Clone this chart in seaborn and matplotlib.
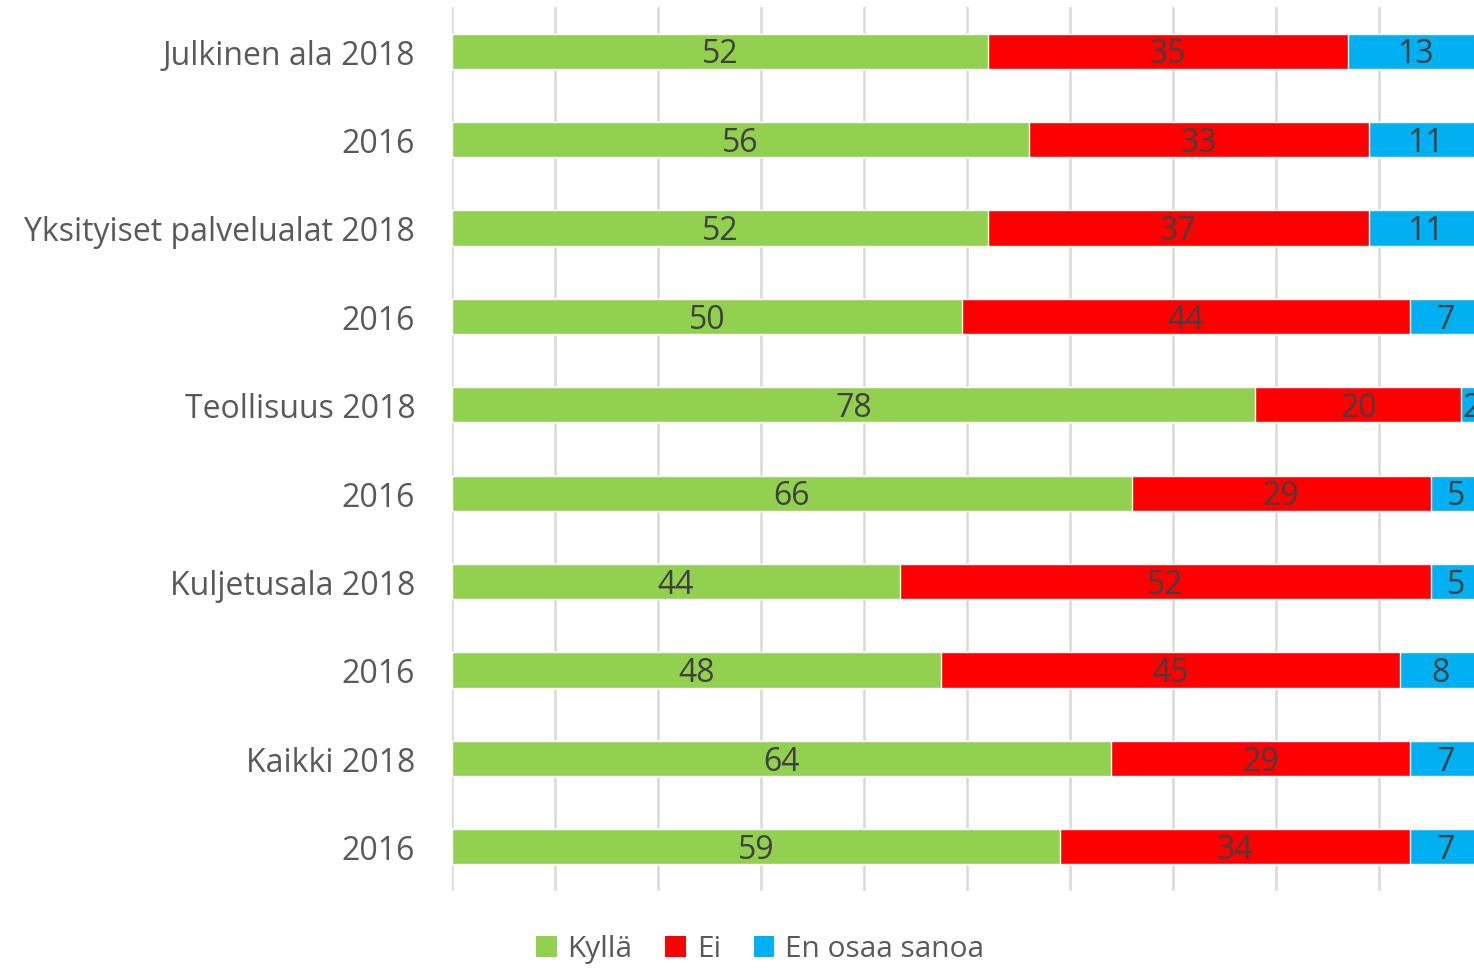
import numpy as np
import pandas as pd
import seaborn as sns
import matplotlib.pyplot as plt
from matplotlib.patches import Patch

categories = ["Julkinen ala 2018", "2016", "Yksityiset palvelualat 2018", "2016",
              "Teollisuus 2018", "2016", "Kuljetusala 2018", "2016", "Kaikki 2018", "2016"]
kylla = [52, 56, 52, 49.5, 78, 66, 43.5, 47.5, 64, 59]
ei = [35, 33, 37, 43.5, 20, 29, 51.5, 44.5, 29, 34]
eos = [13, 11, 11, 7, 2, 5, 5, 8, 7, 7]

series_names = ["Kyllä", "Ei", "En osaa sanoa"]
colors = ["#92D050", "#FF0000", "#00B0F0"]

# unique row keys so the repeated "2016" labels stay separate
keys = [f"{i}_{c}" for i, c in enumerate(categories)]
df = pd.DataFrame({"key": keys, "Kyllä": kylla, "Ei": ei, "En osaa sanoa": eos})
df["c1"] = df["Kyllä"]
df["c2"] = df["Kyllä"] + df["Ei"]
df["c3"] = df["c2"] + df["En osaa sanoa"]

sns.set_theme(style="white")
plt.rcParams['font.family'] = ['Open Sans', 'DejaVu Sans']

fig = plt.figure(figsize=(14.74, 9.70), dpi=100)
ax = fig.add_axes([452 / 1474, 78 / 970, 1 - 452 / 1474, 884 / 970])

for col, color in zip(["c3", "c2", "c1"], colors[::-1]):
    sns.barplot(data=df, y="key", x=col, orient="h", color=color, width=0.4,
                saturation=1, ax=ax, order=keys)

# value labels in segment centers (rounded half up like Excel)
for i, row in df.iterrows():
    starts = [0, row["c1"], row["c2"]]
    for s, name in zip(starts, series_names):
        v = row[name]
        ax.text(s + v / 2, i + 0.03, f"{int(np.floor(v + 0.5))}", ha="center", va="center",
                fontsize=23, color="#404040", clip_on=False)

ax.set_xlim(0, (1474 - 452) / 10.3)
ax.set_ylim(len(keys) - 0.5, -0.5)
ax.set_xticks(np.arange(0, 100, 10))
ax.set_xticklabels([])
ax.xaxis.grid(True, color="#D9D9D9", linewidth=1.8)
ax.set_axisbelow(True)
ax.set_yticks(range(len(keys)))
ax.set_yticklabels(categories, fontsize=23, color="#595959")
ax.tick_params(axis="y", length=0, pad=26.5)
ax.tick_params(axis="x", length=0)
ax.set_xlabel("")
ax.set_ylabel("")
for sp in ax.spines.values():
    sp.set_visible(False)

handles = [Patch(facecolor=c, edgecolor="none") for c in colors]
fig.legend(handles, series_names, loc="center", bbox_to_anchor=(760 / 1474, 1 - 950 / 970),
           ncol=3, frameon=False, fontsize=21.5, labelcolor="#595959",
           handlelength=0.7, handleheight=0.7, handletextpad=0.35, columnspacing=1.1)

fig.savefig("out.png", dpi=100)
